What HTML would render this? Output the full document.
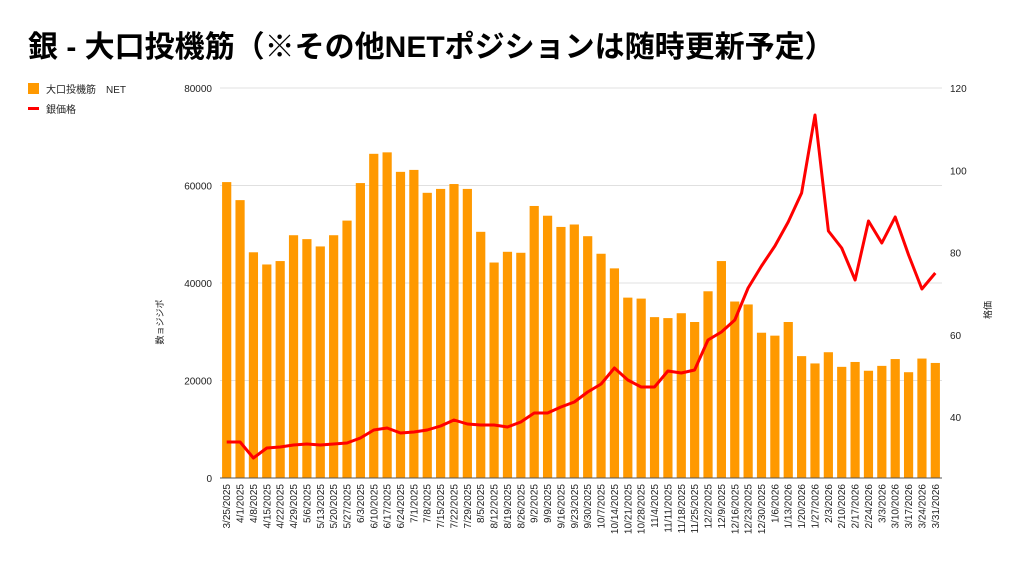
<!DOCTYPE html>
<html><head><meta charset="utf-8"><style>
body{margin:0;background:#fff;width:1024px;height:565px;overflow:hidden;font-family:"Liberation Sans","Noto Sans CJK JP",sans-serif}
</style></head><body>
<svg id="c" width="1024" height="565" xmlns="http://www.w3.org/2000/svg" font-family="Liberation Sans, Noto Sans CJK JP, sans-serif">
<text x="28" y="57" font-size="30" font-weight="bold" fill="#000">銀 - 大口投機筋（※その他NETポジションは随時更新予定）</text>
<rect x="28" y="83" width="11" height="11" fill="#ff9900"/>
<text x="46" y="93" font-size="10" fill="#222">大口投機筋　NET</text>
<rect x="28" y="107" width="11" height="3" fill="#ff0000"/>
<text x="46" y="113" font-size="10" fill="#222">銀価格</text>
<text transform="translate(163,322) rotate(-90)" font-size="9" fill="#222" text-anchor="middle">数ョジジポ</text>
<text transform="translate(991,310) rotate(-90)" font-size="9" fill="#222" text-anchor="middle">格価</text>
<g id="g"></g>
</svg>
<script>
var NS="http://www.w3.org/2000/svg",g=document.getElementById("g");
function el(t,a,txt){var e=document.createElementNS(NS,t);for(var k in a)e.setAttribute(k,a[k]);if(txt!=null)e.textContent=txt;g.appendChild(e);return e;}
var L=220,R=942,B=478,T=88;
[0,20000,40000,60000,80000].forEach(function(v){var y=B-v*390/80000;
 if(v>0)el("line",{x1:L,x2:R,y1:y,y2:y,stroke:"#e0e0e0","stroke-width":1});
 el("text",{x:212,y:y+4,"font-size":10,fill:"#222","text-anchor":"end"},String(v));});
[40,60,80,100,120].forEach(function(v){var y=417-(v-40)*4.1125;
 el("text",{x:950,y:y+4,"font-size":10,fill:"#222"},String(v));});
var bars=[60700,57000,46300,43800,44500,49800,49000,47500,49800,52800,60500,66500,66800,62800,63200,58500,59300,60300,59300,50500,44200,46400,46200,55800,53800,51500,52000,49600,46000,43000,37000,36800,33000,32800,33800,32000,38300,44500,36200,35600,29800,29200,32000,25000,23500,25800,22800,23800,22000,23000,24400,21700,24500,23600];
var py=[442,442,458,448,447,445,444,445,444,443,438,430,428,433,432,430,426,420,424,425,425,427,422,413,413,407,402,392,384,368,380,387,387,371,373,370,340,332,320,288,266,246,222,193,115,231,248,280,221,243,217,255,289,273];
var step=(R-L)/54,d=new Date(2025,2,25),pts=[];
for(var i=0;i<54;i++){var cx=L+step*(i+0.5),h=bars[i]*390/80000;
 el("rect",{x:cx-4.6,y:B-h,width:9.2,height:h,fill:"#ff9900"});
 pts.push(cx.toFixed(1)+","+py[i]);
 var lab=(d.getMonth()+1)+"/"+d.getDate()+"/"+d.getFullYear();
 el("text",{transform:"translate("+(cx+3.5)+",484) rotate(-90)","font-size":10,fill:"#222","text-anchor":"end"},lab);
 d.setDate(d.getDate()+7);}
el("line",{x1:L,x2:R,y1:B,y2:B,stroke:"#555","stroke-width":1});
el("polyline",{points:pts.join(" "),fill:"none",stroke:"#ff0000","stroke-width":3,"stroke-linejoin":"round"});
</script>
</body></html>
